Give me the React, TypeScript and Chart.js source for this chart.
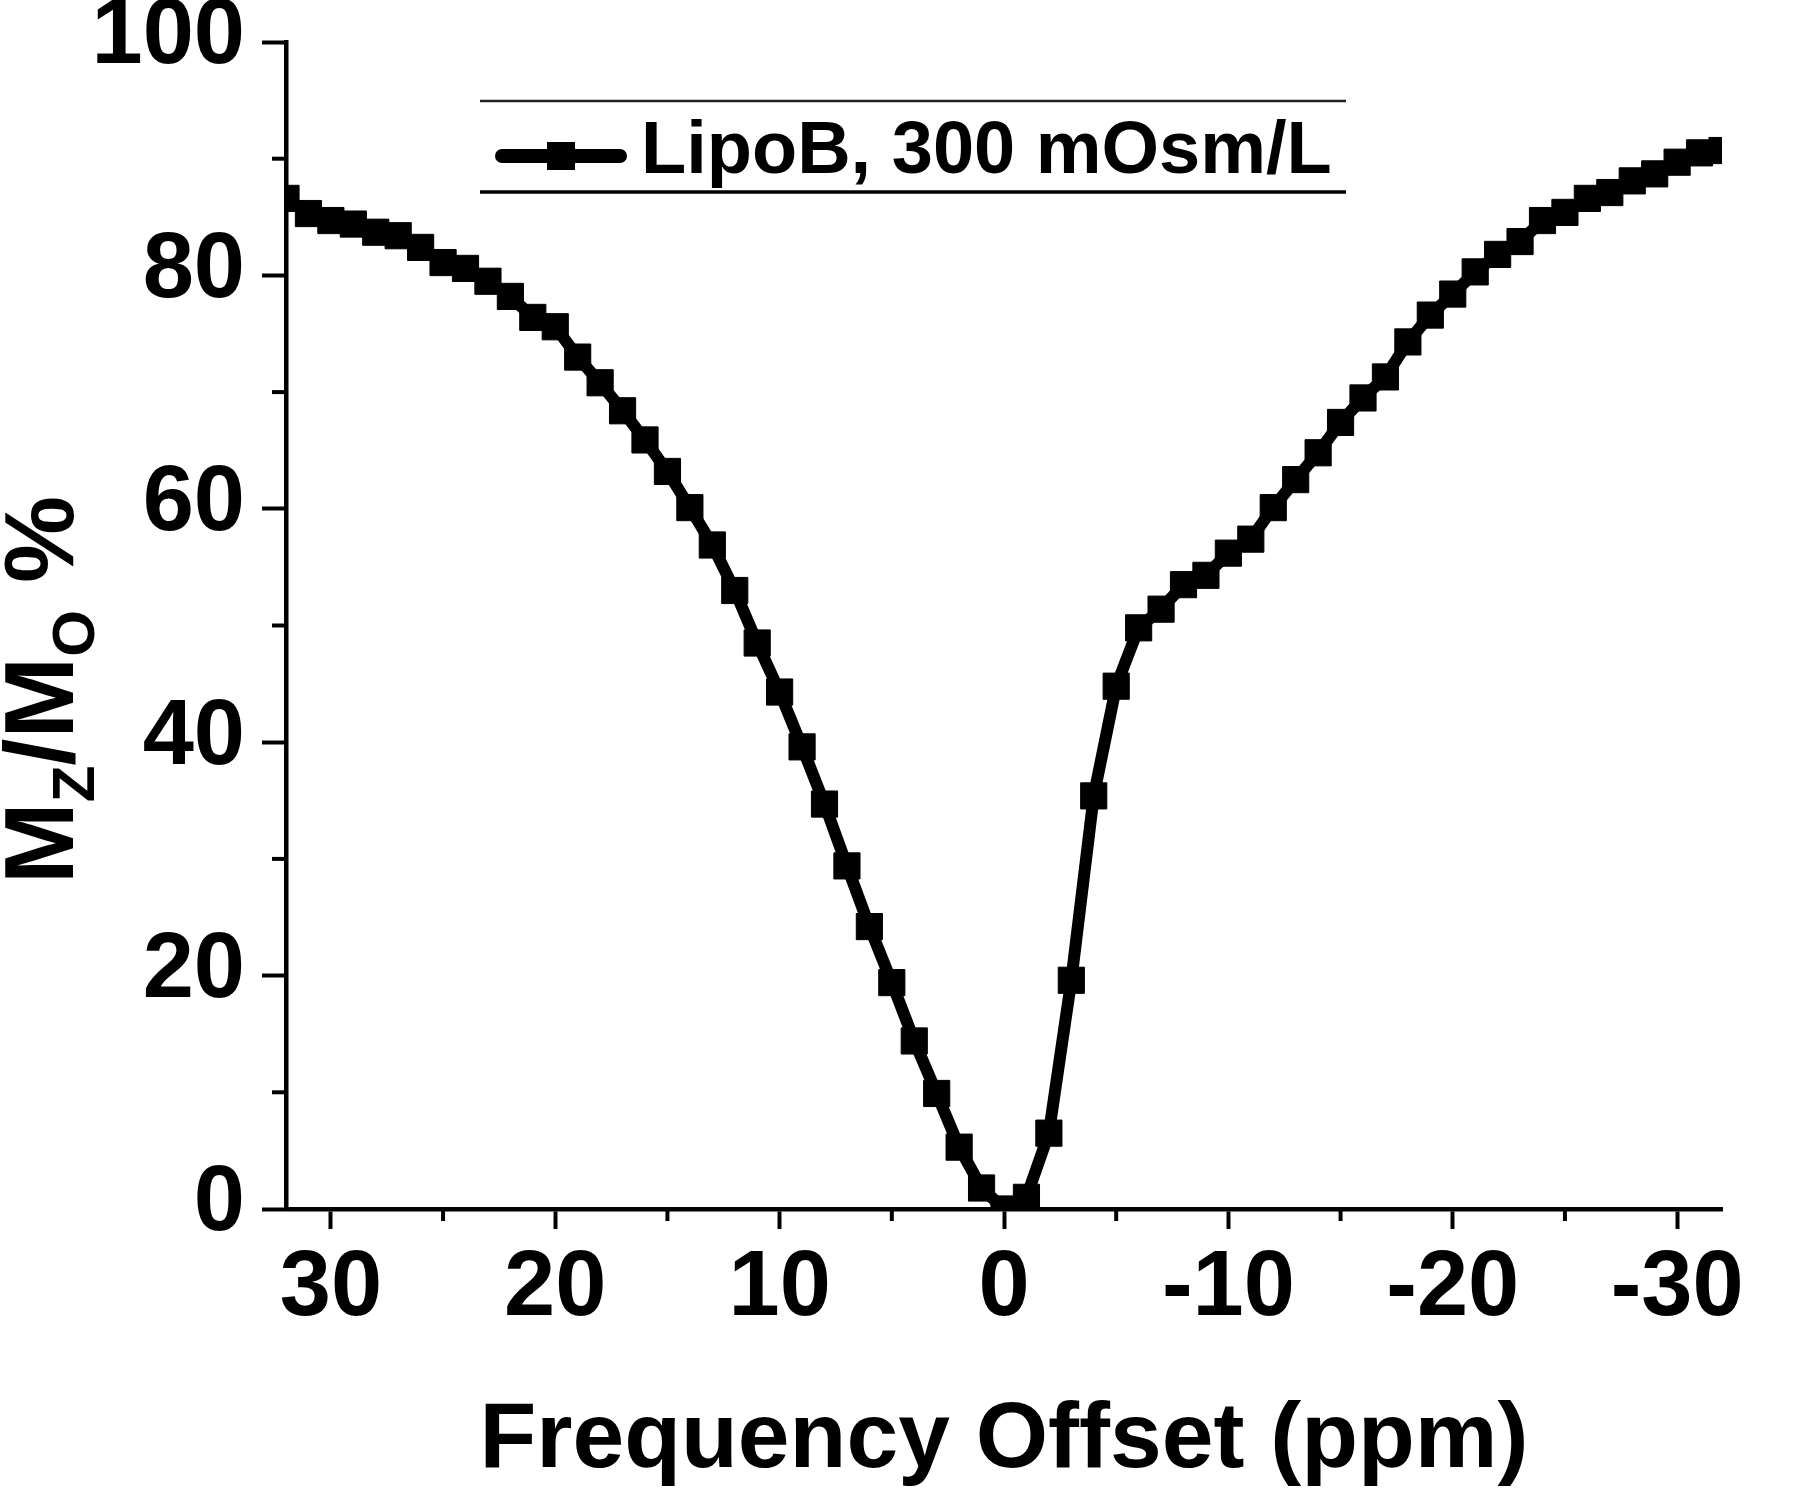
import React, { useEffect, useRef } from "react";
import { Chart, registerables } from "chart.js";

Chart.register(...registerables);

// ---- Data ----
const offsetsPpm = [
  32, 31, 30, 29, 28, 27, 26, 25, 24, 23, 22, 21, 20, 19, 18, 17,
  16, 15, 14, 13, 12, 11, 10, 9, 8, 7, 6, 5, 4, 3, 2, 1,
  0,
  -1, -2, -3, -4, -5, -6, -7, -8, -9, -10, -11, -12, -13, -14, -15, -16,
  -17, -18, -19, -20, -21, -22, -23, -24, -25, -26, -27, -28, -29, -30, -31, -32,
];
const mzMoPercent = [
  86.6, 85.3, 84.7, 84.4, 83.7, 83.4, 82.4, 81.1, 80.6, 79.5, 78.2, 76.4, 75.6, 73.0, 70.8, 68.4,
  65.9, 63.2, 60.1, 56.9, 53.0, 48.5, 44.3, 39.6, 34.7, 29.4, 24.2, 19.4, 14.4, 9.9, 5.3, 1.8,
  0.0,
  1.0, 6.5, 19.6, 35.4, 44.8, 49.8, 51.4, 53.5, 54.3, 56.2, 57.4, 60.1, 62.5, 64.8, 67.4, 69.5,
  71.3, 74.3, 76.6, 78.4, 80.3, 81.8, 82.9, 84.7, 85.4, 86.6, 87.1, 88.1, 88.7, 89.7, 90.5, 90.7,
];
const seriesLabel = "LipoB, 300 mOsm/L";
const xAxisTitle = "Frequency Offset (ppm)";
const xMinorTicks = [25, 15, 5, -5, -15, -25];
const yMinorTicks = [10, 30, 50, 70, 90];
const yTitleParts = [
  { text: "M", sub: false },
  { text: "Z", sub: true },
  { text: "/", sub: false },
  { text: "M", sub: false },
  { text: "O", sub: true },
  { text: " %", sub: false },
];

const FONT = "'Liberation Sans', Arial, Helvetica, sans-serif";

const decorPlugin = {
  id: "decor",
  afterDraw(chart: any) {
    const ctx = chart.ctx as CanvasRenderingContext2D;
    const xs = chart.scales.x;
    const ys = chart.scales.y;
    const area = chart.chartArea;
    ctx.save();
    ctx.strokeStyle = "#000";
    ctx.fillStyle = "#000";
    ctx.lineCap = "butt";
    ctx.lineWidth = 4;
    // minor ticks
    for (const v of yMinorTicks) {
      const py = ys.getPixelForValue(v);
      ctx.beginPath();
      ctx.moveTo(area.left - 14, py);
      ctx.lineTo(area.left, py);
      ctx.stroke();
    }
    for (const v of xMinorTicks) {
      const px = xs.getPixelForValue(v);
      ctx.beginPath();
      ctx.moveTo(px, area.bottom);
      ctx.lineTo(px, area.bottom + 12);
      ctx.stroke();
    }

    // y-axis title with subscripts
    ctx.save();
    ctx.translate(73, 884);
    ctx.rotate(-Math.PI / 2);
    ctx.textAlign = "left";
    ctx.textBaseline = "alphabetic";
    let cx = 0;
    for (const part of yTitleParts) {
      ctx.font = part.sub ? `bold 60px ${FONT}` : `bold 98px ${FONT}`;
      ctx.fillText(part.text, cx, part.sub ? 21 : 0);
      cx += ctx.measureText(part.text).width;
    }
    ctx.restore();

    // legend box (top and bottom rules only)
    const ds = chart.data.datasets[0];
    const lg = { left: 480, right: 1346, top: 101, bottom: 192, symX1: 502, symX2: 620, symY: 156, textX: 641, textY: 173 };
    ctx.strokeStyle = "#222";
    ctx.lineWidth = 2.5;
    ctx.beginPath();
    ctx.moveTo(lg.left, lg.top);
    ctx.lineTo(lg.right, lg.top);
    ctx.stroke();
    ctx.strokeStyle = "#000";
    ctx.lineWidth = 3.5;
    ctx.beginPath();
    ctx.moveTo(lg.left, lg.bottom);
    ctx.lineTo(lg.right, lg.bottom);
    ctx.stroke();
    ctx.lineWidth = 14;
    ctx.lineCap = "round";
    ctx.beginPath();
    ctx.moveTo(lg.symX1, lg.symY);
    ctx.lineTo(lg.symX2, lg.symY);
    ctx.stroke();
    const mid = (lg.symX1 + lg.symX2) / 2;
    ctx.fillRect(mid - 14, lg.symY - 14, 28, 28);
    ctx.font = `bold 74px ${FONT}`;
    ctx.textAlign = "left";
    ctx.textBaseline = "alphabetic";
    ctx.fillText(ds.label, lg.textX, lg.textY);
    ctx.restore();
  },
};

export default function App() {
  const canvasRef = useRef<HTMLCanvasElement | null>(null);

  useEffect(() => {
    const canvas = canvasRef.current;
    if (!canvas) return;
    const points = offsetsPpm.map((x, i) => ({ x, y: mzMoPercent[i] }));
    const chart = new Chart(canvas, {
      type: "line",
      data: {
        datasets: [
          {
            label: seriesLabel,
            data: points,
            borderColor: "#000",
            backgroundColor: "#000",
            borderWidth: 12,
            tension: 0,
            pointStyle: "rect",
            pointRadius: 18.5,
            pointBorderWidth: 1,
            pointBackgroundColor: "#000",
            pointBorderColor: "#000",
            clip: 0,
          } as any,
        ],
      },
      options: {
        responsive: false,
        maintainAspectRatio: false,
        devicePixelRatio: 1,
        animation: false,
        layout: { padding: { left: 0, top: 42, right: 78, bottom: 0 } },
        plugins: {
          legend: { display: false },
          tooltip: { enabled: false },
        },
        scales: {
          x: {
            type: "linear",
            position: "bottom",
            min: -32,
            max: 32,
            reverse: true,
            afterFit(scale: any) {
              scale.height = 287;
              scale.paddingLeft = 0;
              scale.paddingRight = 0;
            },
            ticks: {
              stepSize: 10,
              includeBounds: false,
              autoSkip: false,
              maxRotation: 0,
              minRotation: 0,
              padding: 15,
              color: "#000",
              font: { family: FONT, size: 92, weight: "bold", lineHeight: 1 },
              callback: (v: any) => String(v),
            },
            grid: {
              drawOnChartArea: false,
              drawTicks: true,
              tickLength: 20,
              tickWidth: 4,
              tickColor: "#000",
            },
            border: { display: true, color: "#000", width: 4.5 },
            title: {
              display: true,
              text: xAxisTitle,
              color: "#000",
              font: { family: FONT, size: 93, weight: "bold", lineHeight: 1 },
              padding: { top: 0, bottom: 8 },
            },
          },
          y: {
            type: "linear",
            position: "left",
            min: 0,
            max: 100,
            afterFit(scale: any) {
              scale.width = 286;
              scale.paddingTop = 0;
              scale.paddingBottom = 0;
            },
            ticks: {
              stepSize: 20,
              padding: 17,
              labelOffset: -4,
              color: "#000",
              font: { family: FONT, size: 92, weight: "bold", lineHeight: 1 },
              callback: (v: any) => String(v),
            },
            grid: {
              drawOnChartArea: false,
              drawTicks: true,
              tickLength: 24,
              tickWidth: 4,
              tickColor: "#000",
            },
            border: { display: true, color: "#000", width: 4.5 },
          },
        },
      },
      plugins: [decorPlugin],
    });
    return () => chart.destroy();
  }, []);

  return (
    <div style={{ position: "absolute", left: 0, top: 0, width: 1800, height: 1496, background: "#fff" }}>
      <canvas ref={canvasRef} width={1800} height={1496} style={{ display: "block", width: 1800, height: 1496 }} />
    </div>
  );
}
